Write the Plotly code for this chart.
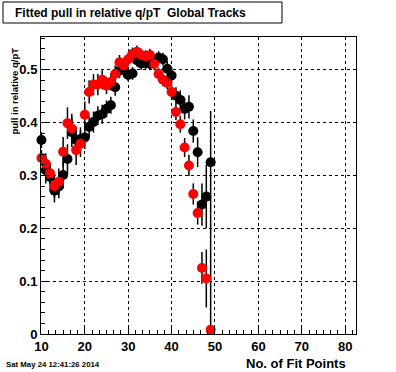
import plotly.graph_objects as go

# Number of fit points (bin centres)
fit_points = list(range(10, 50))

# Black series
black_vals = [0.367, 0.310, 0.297, 0.271, 0.279, 0.301, 0.331, 0.382, 0.367, 0.369,
              0.372, 0.392, 0.401, 0.413, 0.416, 0.426, 0.433, 0.467, 0.498, 0.500,
              0.490, 0.493, 0.518, 0.512, 0.513, 0.511, 0.518, 0.523, 0.520, 0.502,
              0.489, 0.451, 0.443, 0.426, 0.430, 0.384, 0.344, 0.245, 0.260, 0.325]
black_errs = [0.015, 0.025, 0.025, 0.022, 0.022, 0.025, 0.028, 0.028, 0.025, 0.022,
              0.022, 0.020, 0.020, 0.018, 0.018, 0.016, 0.016, 0.016, 0.014, 0.014,
              0.012, 0.012, 0.012, 0.012, 0.012, 0.012, 0.012, 0.012, 0.012, 0.014,
              0.015, 0.016, 0.018, 0.020, 0.022, 0.022, 0.028, 0.040, 0.060, 0.097]

# Red series
red_vals = [0.333, 0.322, 0.304, 0.280, 0.288, 0.345, 0.399, 0.389, 0.348, 0.360,
            0.415, 0.458, 0.472, 0.472, 0.481, 0.470, 0.477, 0.492, 0.514, 0.508,
            0.520, 0.530, 0.534, 0.528, 0.525, 0.528, 0.511, 0.492, 0.481, 0.475,
            0.458, 0.420, 0.397, 0.353, 0.319, 0.265, 0.229, 0.125, 0.105, 0.008]
red_errs = [0.015, 0.020, 0.020, 0.022, 0.025, 0.028, 0.030, 0.028, 0.028, 0.025,
            0.025, 0.022, 0.020, 0.020, 0.018, 0.016, 0.016, 0.016, 0.014, 0.014,
            0.012, 0.012, 0.012, 0.012, 0.012, 0.012, 0.012, 0.012, 0.012, 0.012,
            0.014, 0.015, 0.016, 0.018, 0.020, 0.020, 0.022, 0.030, 0.055, 0.220]

x_ticks = [10, 20, 30, 40, 50, 60, 70, 80]
y_ticks = [0, 0.1, 0.2, 0.3, 0.4, 0.5]
y_tick_text = ["0", "0.1", "0.2", "0.3", "0.4", "0.5"]

title_text = "Fitted pull in relative q/pT \u00a0Global Tracks"
x_title = "No. of Fit Points"
y_title = "pull in relative q/pT"
stamp = "Sat May 24 12:41:26 2014"

FONT = "Liberation Sans, Arial, Helvetica, sans-serif"

fig = go.Figure()
fig.add_trace(go.Scatter(
    x=fit_points, y=black_vals, mode="markers",
    marker=dict(color="black", size=10),
    error_y=dict(type="data", array=black_errs, color="black", thickness=1.5, width=0),
    cliponaxis=False, showlegend=False, hoverinfo="skip"))
fig.add_trace(go.Scatter(
    x=fit_points, y=red_vals, mode="markers",
    marker=dict(color="#ff0000", size=10),
    error_y=dict(type="data", array=red_errs, color="black", thickness=1.5, width=0),
    cliponaxis=False, showlegend=False, hoverinfo="skip"))

axis_common = dict(
    showline=True, linecolor="black", linewidth=1, mirror=True,
    showgrid=True, gridcolor="black", griddash="dot", gridwidth=1,
    zeroline=False, ticks="inside", tickcolor="black", tickwidth=1,
    tickfont=dict(family=FONT, size=13, color="black", weight="bold"),
)

fig.update_xaxes(range=[9.9, 82.5], tickvals=x_ticks, ticklen=9,
                 minor=dict(tick0=10, dtick=10 / 6, ticks="inside", ticklen=4,
                            tickcolor="black", showgrid=False),
                 **axis_common)
fig.update_yaxes(range=[0, 0.562], tickvals=y_ticks, ticktext=y_tick_text, ticklen=9,
                 minor=dict(tick0=0, dtick=0.02, ticks="inside", ticklen=4,
                            tickcolor="black", showgrid=False),
                 **axis_common)

L, R, T, B = 41, 356, 37, 334
W, H = 396, 372
pw, ph = R - L, B - T


def px_x(p):
    return (p - L) / pw


def px_y(p):
    return (B - p) / ph


fig.update_layout(
    width=W, height=H,
    margin=dict(l=L, r=W - R, t=T, b=H - B),
    paper_bgcolor="white", plot_bgcolor="white",
    font=dict(family=FONT, color="black"),
    shapes=[dict(type="rect", xref="paper", yref="paper",
                 x0=px_x(3), x1=px_x(282), y0=px_y(23), y1=px_y(2),
                 line=dict(color="black", width=1), fillcolor="white", layer="below")],
    annotations=[
        dict(text=title_text, xref="paper", yref="paper", x=px_x(13), y=px_y(12.5),
             xanchor="left", yanchor="middle", showarrow=False,
             font=dict(size=12, weight="bold")),
        dict(text=x_title, xref="paper", yref="paper", x=px_x(348), y=px_y(363),
             xanchor="right", yanchor="middle", showarrow=False,
             font=dict(size=13, weight="bold")),
        dict(text=y_title, xref="paper", yref="paper", x=px_x(14), y=px_y(46),
             xanchor="center", yanchor="top", textangle=-90, showarrow=False,
             font=dict(size=9.5, weight="bold")),
        dict(text=stamp, xref="paper", yref="paper", x=px_x(4), y=px_y(364),
             xanchor="left", yanchor="middle", showarrow=False,
             font=dict(size=7.8, weight="bold")),
    ],
)

fig.write_html("out.html", config={"displayModeBar": False, "staticPlot": True},
               post_script="document.body.style.margin='0';document.body.style.overflow='hidden';")
